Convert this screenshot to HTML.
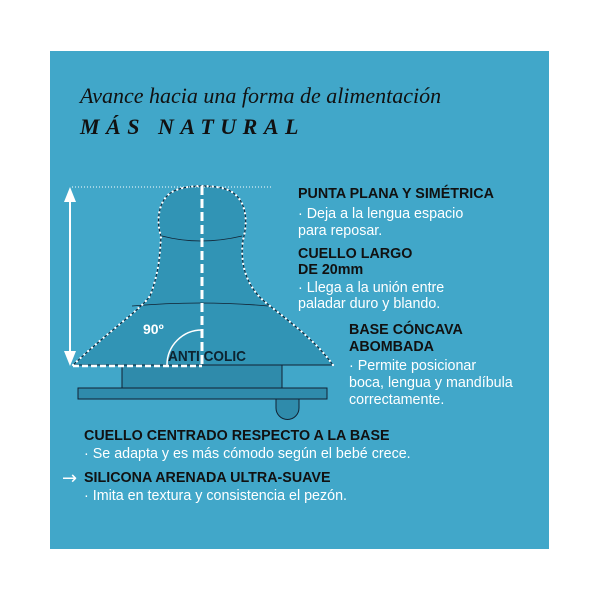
<!DOCTYPE html>
<html><head><meta charset="utf-8"><style>
html,body{margin:0;padding:0;background:#fff;width:600px;height:600px;overflow:hidden}
svg{display:block}
.h{font:bold 14.3px "Liberation Sans",sans-serif;fill:#111}
.t{font:14.3px "Liberation Sans",sans-serif;fill:#fff}
</style></head><body>
<svg width="600" height="600" viewBox="0 0 600 600" xmlns="http://www.w3.org/2000/svg">
<rect x="50" y="51" width="499" height="498" fill="#41a7c9"/>
<text x="80" y="103" style="font:italic 22px 'Liberation Serif',serif;fill:#111">Avance hacia una forma de alimentación</text>
<text x="80" y="134" style="font:italic bold 22px 'Liberation Serif',serif;fill:#111;letter-spacing:6.5px">MÁS NATURAL</text>

<rect x="122" y="365" width="160" height="23" fill="#2f8bab" stroke="#123" stroke-width="1"/>
<path d="M276,398 L299,398 L299,408 A11.5,11.5 0 0 1 276,408 Z" fill="#2f8bab" stroke="#123"/>
<rect x="78" y="388" width="249" height="11" fill="#2f8bab" stroke="#123"/>
<path d="M73,365 C110,330 140,310 150,296 C160,270 160,250 161,236 C156,222 158,200 172,192 C185,184 220,184 232,192 C247,202 248,222 243,240 C240,262 245,285 265,302 C290,322 315,340 333,365 Z" fill="#3194b5" stroke="#123" stroke-width="1"/>
<path d="M162,236 Q200,246 242,236" fill="none" stroke="#123" stroke-width="0.8"/>
<path d="M132,306 Q200,300 268,306" fill="none" stroke="#123" stroke-width="0.8"/>
<path d="M73,365 C110,330 140,310 150,296 C160,270 160,250 161,236 C156,222 158,200 172,192 C185,184 220,184 232,192 C247,202 248,222 243,240 C240,262 245,285 265,302 C290,322 315,340 333,365" fill="none" stroke="#fff" stroke-width="2.2" stroke-dasharray="0.1 5" stroke-linecap="round"/>
<line x1="73" y1="366" x2="202" y2="366" stroke="#fff" stroke-width="2.5" stroke-dasharray="6 3"/>
<line x1="202" y1="186" x2="202" y2="366" stroke="#fff" stroke-width="3" stroke-dasharray="9 4"/>
<line x1="72" y1="187" x2="272" y2="187" stroke="#fff" stroke-width="1" stroke-dasharray="1 2"/>
<line x1="70" y1="195" x2="70" y2="358" stroke="#fff" stroke-width="2"/>
<polygon points="70,187 64,202 76,202" fill="#fff"/>
<polygon points="70,366 64,351 76,351" fill="#fff"/>
<path d="M167,365 A35,35 0 0 1 202,330" fill="none" stroke="#fff" stroke-width="1.5"/>
<text x="143" y="334" style="font:bold 14px 'Liberation Sans',sans-serif;fill:#fff">90º</text>
<text x="168" y="361" style="font:bold 15px 'Liberation Sans',sans-serif;fill:#0d2330" textLength="78" lengthAdjust="spacingAndGlyphs">ANTI COLIC</text>

<text class="h" x="298" y="198">PUNTA PLANA Y SIMÉTRICA</text>
<text class="t" x="298" y="218">· Deja a la lengua espacio</text>
<text class="t" x="298" y="235">para reposar.</text>
<text class="h" x="298" y="258">CUELLO LARGO</text>
<text class="h" x="298" y="274">DE 20mm</text>
<text class="t" x="298" y="292">· Llega a la unión entre</text>
<text class="t" x="298" y="308">paladar duro y blando.</text>
<text class="h" x="349" y="334">BASE CÓNCAVA</text>
<text class="h" x="349" y="351">ABOMBADA</text>
<text class="t" x="349" y="370">· Permite posicionar</text>
<text class="t" x="349" y="387">boca, lengua y mandíbula</text>
<text class="t" x="349" y="404">correctamente.</text>
<text class="h" x="84" y="440">CUELLO CENTRADO RESPECTO A LA BASE</text>
<text class="t" x="84" y="458">· Se adapta y es más cómodo según el bebé crece.</text>
<text x="62" y="484" style="font:18px 'DejaVu Sans',sans-serif;fill:#fff">→</text>
<text class="h" x="84" y="482">SILICONA ARENADA ULTRA-SUAVE</text>
<text class="t" x="84" y="500">· Imita en textura y consistencia el pezón.</text>
</svg>
</body></html>
